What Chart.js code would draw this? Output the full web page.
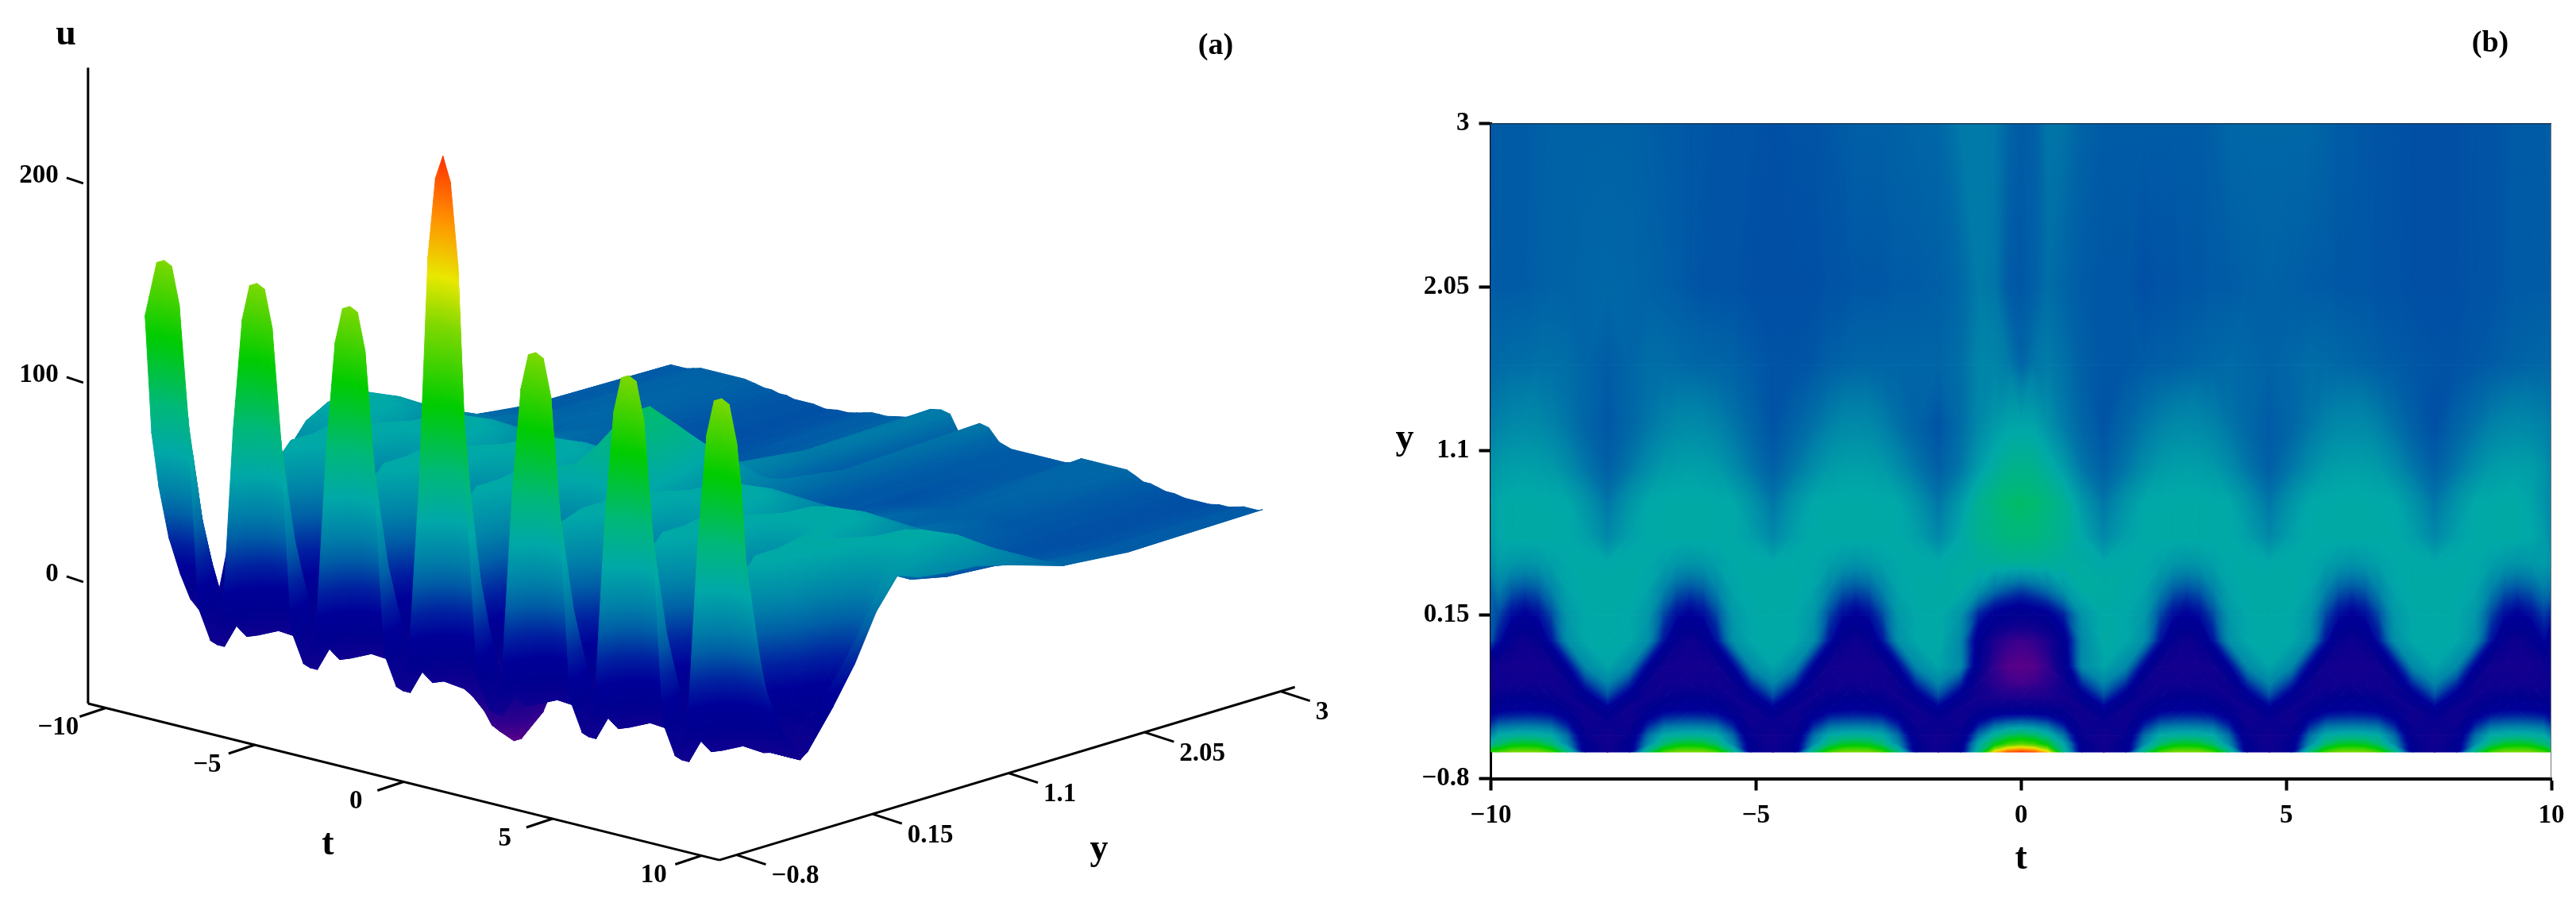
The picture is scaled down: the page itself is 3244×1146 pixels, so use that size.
<!DOCTYPE html>
<html>
<head>
<meta charset="utf-8">
<title>Surface and contour of u(t, y)</title>
<script src="https://cdn.jsdelivr.net/npm/chart.js@4/dist/chart.umd.min.js"></script>
<style>
	html, body { margin: 0; padding: 0; background: #fff; }
	#page { position: relative; width: 3244px; height: 1146px; overflow: hidden; }
	canvas { position: absolute; top: 0; }
	#surface-canvas { left: 0; }
	#contour-canvas { left: 1700px; }
</style>
</head>
<body>
<div id="page">
	<canvas id="surface-canvas" width="1700" height="1146"></canvas>
	<canvas id="contour-canvas" width="1544" height="1146"></canvas>
</div>
<script>
// --- Data ---

const tValues = [
	-10, -9.86, -9.61, -9.36, -9.11, -8.86, -8.56, -8.21, -7.8,
	-7.39, -7.04, -6.74, -6.49, -6.24, -5.99, -5.74, -5.44, -5.09, -4.68,
	-4.27, -3.92, -3.62, -3.37, -3.12, -2.87, -2.62, -2.32, -1.97, -1.56,
	-1.15, -0.8, -0.5, -0.25, 0, 0.25, 0.5, 0.8, 1.15, 1.56,
	1.97, 2.32, 2.62, 2.87, 3.12, 3.37, 3.62, 3.92, 4.27, 4.68,
	5.09, 5.44, 5.74, 5.99, 6.24, 6.49, 6.74, 7.04, 7.39, 7.8,
	8.21, 8.56, 8.86, 9.11, 9.36, 9.61, 9.86, 10,
];

const yValues = [-0.646, -0.6, -0.55, -0.48, -0.4, -0.33, -0.25, -0.15, 0, 0.15, 0.3, 0.45, 0.6, 0.8, 1, 1.25, 1.6, 2.05, 3];

// one row per yValues entry, one column per tValues entry
const uRows = [
	[130, 140, 158, 160, 158, 140, 84, -10, -25,
		-10, 84, 140, 158, 160, 158, 140, 84, -10, -25,
		-10, 84, 140, 158, 160, 158, 140, 84, -10, -25,
		-10, 78, 195, 235, 247, 235, 195, 78, -10, -25,
		-10, 84, 140, 158, 160, 158, 140, 84, -10, -25,
		-10, 84, 140, 158, 160, 158, 140, 84, -10, -25,
		-10, 84, 140, 158, 160, 158, 140, 120],
	[70, 88, 108, 112, 108, 88, 45, -12, -28,
		-12, 45, 88, 108, 112, 108, 88, 45, -12, -28,
		-12, 45, 88, 108, 112, 108, 88, 45, -12, -28,
		-12, 60, 112, 140, 150, 140, 112, 60, -12, -28,
		-12, 45, 88, 108, 112, 108, 88, 45, -12, -28,
		-12, 45, 88, 108, 112, 108, 88, 45, -12, -28,
		-12, 45, 88, 108, 112, 108, 88, 70],
	[42, 62, 68, 70, 68, 62, 32, -18, -30,
		-18, 32, 62, 68, 70, 68, 62, 32, -18, -30,
		-18, 32, 62, 68, 70, 68, 62, 32, -18, -30,
		-18, 35, 72, 92, 100, 92, 72, 35, -18, -30,
		-18, 32, 62, 68, 70, 68, 62, 32, -18, -30,
		-18, 32, 62, 68, 70, 68, 62, 32, -18, -30,
		-18, 32, 62, 68, 70, 68, 62, 42],
	[15, 26, 29, 30, 29, 26, 8, -25, -20,
		-25, 8, 26, 29, 30, 29, 26, 8, -25, -20,
		-25, 8, 26, 29, 30, 29, 26, 8, -25, -20,
		-25, 6, 25, 32, 35, 32, 25, 6, -25, -20,
		-25, 8, 26, 29, 30, 29, 26, 8, -25, -20,
		-25, 8, 26, 29, 30, 29, 26, 8, -25, -20,
		-25, 8, 26, 29, 30, 29, 26, 15],
	[-5, -4, -1, 0, -1, -4, -14, -26, -5,
		-26, -14, -4, -1, 0, -1, -4, -14, -26, -5,
		-26, -14, -4, -1, 0, -1, -4, -14, -26, -5,
		-26, -18, -14, -12, -12, -12, -14, -18, -26, -5,
		-26, -14, -4, -1, 0, -1, -4, -14, -26, -5,
		-26, -14, -4, -1, 0, -1, -4, -14, -26, -5,
		-26, -14, -4, -1, 0, -1, -4, -4],
	[-19, -16, -13, -12, -13, -16, -24, -10, 20,
		-10, -24, -16, -13, -12, -13, -16, -24, -10, 20,
		-10, -24, -16, -13, -12, -13, -16, -24, -10, 20,
		-10, -30, -33, -35, -35, -35, -33, -30, -10, 20,
		-10, -24, -16, -13, -12, -13, -16, -24, -10, 20,
		-10, -24, -16, -13, -12, -13, -16, -24, -10, 20,
		-10, -24, -16, -13, -12, -13, -16, -14],
	[-28, -28, -27, -27, -27, -28, -22, 15, 42,
		15, -22, -28, -27, -27, -27, -28, -22, 15, 42,
		15, -22, -28, -27, -27, -27, -28, -22, 15, 42,
		15, -28, -42, -48, -50, -48, -42, -28, 15, 42,
		15, -22, -28, -27, -27, -27, -28, -22, 15, 42,
		15, -22, -28, -27, -27, -27, -28, -22, 15, 42,
		15, -22, -28, -27, -27, -27, -26, -22],
	[-26, -28, -31, -31, -31, -28, 0, 45, 58,
		45, 0, -28, -31, -31, -31, -28, 0, 45, 58,
		45, 0, -28, -31, -31, -31, -28, 0, 45, 58,
		45, -15, -46, -55, -57, -55, -46, -15, 45, 58,
		45, 0, -28, -31, -31, -31, -28, 0, 45, 58,
		45, 0, -28, -31, -31, -31, -28, 0, 45, 58,
		45, 0, -28, -31, -31, -31, -26, -18],
	[25, 8, -16, -24, -16, 8, 48, 60, 62,
		60, 48, 8, -16, -24, -16, 8, 48, 60, 62,
		60, 48, 8, -16, -24, -16, 8, 48, 60, 62,
		45, -10, -35, -45, -48, -45, -35, -10, 45, 62,
		60, 48, 8, -16, -24, -16, 8, 48, 60, 62,
		60, 48, 8, -16, -24, -16, 8, 48, 60, 62,
		60, 48, 8, -16, -24, -16, 2, -6],
	[28, 22, 5, -2, 5, 22, 52, 60, 62,
		60, 52, 22, 5, -2, 5, 22, 52, 60, 62,
		60, 52, 22, 5, -2, 5, 22, 52, 60, 62,
		50, 12, -5, -10, -13, -10, -5, 12, 50, 62,
		60, 52, 22, 5, -2, 5, 22, 52, 60, 62,
		60, 52, 22, 5, -2, 5, 22, 52, 60, 62,
		60, 52, 22, 5, -2, 5, 18, 12],
	[32, 40, 28, 24, 28, 42, 58, 62, 62,
		62, 58, 42, 28, 24, 28, 42, 58, 62, 62,
		62, 58, 42, 28, 24, 28, 42, 58, 62, 62,
		64, 52, 36, 28, 22, 28, 36, 52, 64, 64,
		62, 58, 42, 28, 24, 28, 42, 58, 62, 62,
		62, 58, 42, 28, 24, 28, 42, 58, 62, 62,
		62, 58, 42, 28, 24, 28, 38, 35],
	[46, 54, 52, 50, 52, 56, 60, 62, 60,
		62, 60, 56, 52, 50, 52, 56, 60, 62, 60,
		62, 60, 56, 52, 50, 52, 56, 60, 62, 60,
		64, 66, 68, 70, 70, 70, 68, 66, 64, 60,
		62, 60, 56, 52, 50, 52, 56, 60, 62, 60,
		62, 60, 56, 52, 50, 52, 56, 60, 62, 60,
		62, 60, 56, 52, 50, 52, 54, 50],
	[53, 60, 62, 62, 62, 62, 61, 56, 44,
		56, 61, 62, 62, 62, 62, 62, 61, 56, 44,
		56, 61, 62, 62, 62, 62, 62, 61, 56, 44,
		60, 72, 78, 83, 84, 83, 78, 72, 60, 44,
		56, 61, 62, 62, 62, 62, 62, 61, 56, 44,
		56, 61, 62, 62, 62, 62, 62, 61, 56, 44,
		56, 61, 62, 62, 62, 60, 54, 46],
	[55, 60, 62, 62, 62, 61, 60, 50, 36,
		50, 60, 61, 62, 62, 62, 61, 60, 50, 36,
		50, 60, 61, 62, 62, 62, 61, 60, 50, 36,
		52, 72, 82, 88, 90, 88, 82, 72, 52, 36,
		50, 60, 61, 62, 62, 62, 61, 60, 50, 36,
		50, 60, 61, 62, 62, 62, 61, 60, 50, 36,
		50, 60, 61, 62, 62, 58, 50, 44],
	[50, 53, 55, 56, 55, 53, 46, 36, 28,
		36, 46, 53, 55, 56, 55, 53, 46, 36, 28,
		36, 46, 53, 55, 56, 55, 53, 46, 36, 28,
		36, 54, 66, 74, 76, 74, 66, 54, 36, 28,
		36, 46, 53, 55, 56, 55, 53, 46, 36, 28,
		36, 46, 53, 55, 56, 55, 53, 46, 36, 28,
		36, 46, 53, 55, 56, 55, 50, 43],
	[39, 41, 44, 45, 44, 41, 36, 30, 26,
		30, 36, 41, 44, 45, 44, 41, 36, 30, 25,
		29, 34, 40, 44, 45, 44, 40, 34, 29, 25,
		32, 44, 52, 57, 58, 57, 49, 38, 30, 25,
		30, 36, 41, 44, 45, 44, 41, 36, 31, 27,
		30, 36, 41, 44, 45, 44, 40, 34, 28, 24,
		29, 34, 40, 43, 44, 43, 41, 38],
	[31, 32, 33, 33, 34, 34, 33, 30, 27,
		30, 33, 33, 32, 31, 30, 30, 29, 27, 25,
		25, 26, 28, 29, 30, 30, 30, 30, 30, 30,
		33, 42, 42, 38, 30, 36, 38, 34, 28, 26,
		26, 27, 28, 28, 29, 30, 31, 32, 31, 29,
		31, 33, 32, 31, 30, 29, 28, 27, 26, 25,
		25, 26, 27, 28, 29, 30, 31, 30],
	[27, 27, 27, 27, 28, 29, 29, 30, 31,
		30, 29, 28, 27, 26, 25, 25, 25, 24, 24,
		24, 24, 25, 25, 26, 26, 26, 27, 27, 28,
		31, 38, 36, 27, 26, 28, 33, 30, 27, 26,
		26, 24, 25, 25, 26, 26, 27, 27, 28, 29,
		28, 27, 27, 26, 26, 26, 25, 25, 24, 24,
		24, 25, 25, 26, 27, 27, 27, 27],
	[26, 27, 27, 27, 28, 29, 29, 29, 29,
		29, 28, 27, 27, 26, 26, 25, 25, 25, 24,
		25, 25, 26, 27, 28, 28, 28, 29, 30, 31,
		37, 38, 37, 30, 27, 28, 36, 35, 29, 27,
		27, 27, 27, 27, 27, 27, 28, 31, 31, 31,
		31, 31, 29, 27, 27, 26, 25, 25, 24, 24,
		24, 25, 25, 26, 27, 27, 27, 28],
];

const uTicks = [0, 100, 200];
const uTickLabels = ['0', '100', '200'];
const tTicks = [-10, -5, 0, 5, 10];
const tTickLabels = ['\u221210', '\u22125', '0', '5', '10'];
const yTicks = [-0.8, 0.15, 1.1, 2.05, 3];
const yTickLabels = ['\u22120.8', '0.15', '1.1', '2.05', '3'];

// colour ramp of the surface, u level -> colour
const rampLevels = [-57, -45, -30, -12, 0, 12, 28, 40, 60, 85, 120, 160, 185, 215, 247];
const rampColors = ['#5a0088', '#30008e', '#12008f', '#00008f', '#000098', '#0020a0', '#005fa6', '#0080a8',
	'#00a8a8', '#00b878', '#00cc00', '#7fd800', '#e8e800', '#ff9000', '#ff3000'];

// --- Colours ---

const rampRgb = rampColors.map(c => [1, 3, 5].map(i => parseInt(c.slice(i, i + 2), 16)));

function colorAt(u) {
	if (u <= rampLevels[0]) return rampColors[0];
	const last = rampLevels.length - 1;
	if (u >= rampLevels[last]) return rampColors[last];
	let i = 0;
	while (rampLevels[i + 1] < u) i++;
	const f = (u - rampLevels[i]) / (rampLevels[i + 1] - rampLevels[i]);
	const rgb = rampRgb[i].map((v, k) => Math.round(v + (rampRgb[i + 1][k] - v) * f));
	return `rgb(${rgb[0]},${rgb[1]},${rgb[2]})`;
}

// u is linear over one triangle, so a linear gradient along its slope shades it exactly
function triangleFill(chart, tri) {
	const { x: xs, y: ys } = chart.scales;
	const px = tri.points.map(p => xs.getPixelForValue(p.x));
	const py = tri.points.map(p => ys.getPixelForValue(p.y));
	const u = tri.u;
	const det = (px[1] - px[0]) * (py[2] - py[0]) - (px[2] - px[0]) * (py[1] - py[0]);
	const uMin = Math.min(...u);
	const uMax = Math.max(...u);
	const flat = colorAt((u[0] + u[1] + u[2]) / 3);
	if (Math.abs(det) < 0.5 || uMax - uMin < 0.01) return flat;
	const a = ((u[1] - u[0]) * (py[2] - py[0]) - (u[2] - u[0]) * (py[1] - py[0])) / det;
	const b = ((u[2] - u[0]) * (px[1] - px[0]) - (u[1] - u[0]) * (px[2] - px[0])) / det;
	const k = u.indexOf(uMin);
	const s = (uMax - uMin) / (a * a + b * b);
	if (!Number.isFinite(s)) return flat;
	const grad = chart.ctx.createLinearGradient(px[k], py[k], px[k] + a * s, py[k] + b * s);
	grad.addColorStop(0, colorAt(uMin));
	rampLevels.forEach((level, i) => {
		if (level > uMin && level < uMax) grad.addColorStop((level - uMin) / (uMax - uMin), rampColors[i]);
	});
	grad.addColorStop(1, colorAt(uMax));
	return grad;
}

const fillCache = new Map();

function scriptedFill(ctx) {
	// scales have no pixels until the first layout is done
	if (!ctx.chart.chartArea) return 'transparent';
	const ds = ctx.dataset;
	if (!fillCache.has(ds)) fillCache.set(ds, triangleFill(ctx.chart, ds.tri));
	return fillCache.get(ds);
}

function triangleDataset(a, b, c) {
	const pts = [a, b, c];
	return {
		data: [...pts.map(p => ({ x: p.x, y: p.y })), { x: a.x, y: a.y }],
		tri: { points: pts, u: pts.map(p => p.u) },
		showLine: true,
		fill: 'shape',
		tension: 0,
		borderWidth: 1,
		pointRadius: 0,
		backgroundColor: scriptedFill,
		borderColor: scriptedFill,
	};
}

// split every grid cell along the diagonal with the closer u values.
// Chart.js paints the first dataset last, so front cells go first in the list.
function meshDatasets(place) {
	const sets = [];
	for (let r = 0; r < yValues.length - 1; r++) {
		for (let c = tValues.length - 2; c >= 0; c--) {
			const p00 = place(tValues[c], yValues[r], uRows[r][c]);
			const p10 = place(tValues[c + 1], yValues[r], uRows[r][c + 1]);
			const p01 = place(tValues[c], yValues[r + 1], uRows[r + 1][c]);
			const p11 = place(tValues[c + 1], yValues[r + 1], uRows[r + 1][c + 1]);
			if (Math.abs(p00.u - p11.u) <= Math.abs(p10.u - p01.u)) {
				sets.push(triangleDataset(p00, p10, p11), triangleDataset(p00, p11, p01));
			} else {
				sets.push(triangleDataset(p00, p10, p01), triangleDataset(p10, p11, p01));
			}
		}
	}
	return sets;
}

function lineDataset(points, color, width) {
	return {
		data: points,
		showLine: true,
		fill: false,
		borderColor: color,
		borderWidth: width,
		pointRadius: 0,
		borderCapStyle: 'butt',
	};
}

// --- Free text drawn on a chart ---

const SERIF = "'Liberation Serif', 'Times New Roman', serif";

const textPlugin = {
	id: 'freeText',
	afterDraw(chart, args, opts) {
		const ctx = chart.ctx;
		ctx.save();
		ctx.fillStyle = '#000';
		ctx.textBaseline = 'middle';
		opts.items.forEach(item => {
			ctx.font = `bold ${item.size}px ${SERIF}`;
			ctx.textAlign = item.align || 'center';
			ctx.fillText(item.text, item.x, item.y);
		});
		ctx.restore();
	},
};

const baseOptions = {
	responsive: false,
	animation: false,
	events: [],
};

// --- Panel (a): surface ---

function project(t, y, u) {
	return {
		x: 155 + (t + 10) * 37.5 + (y + 0.8) * 180.3,
		y: 885 + (t + 10) * 9.3 - (y + 0.8) * 54.2 - (u + 61) * 2.51,
		u,
	};
}

function drawSurface() {
	const TICK = 33;
	const Y_EDGE = -0.92;
	const T_EDGE_LOW = -10.6;
	const T_EDGE_HIGH = 10.6;
	const U_FLOOR = -61;
	const U_TOP = 258;

	const corner = project(T_EDGE_LOW, Y_EDGE, U_FLOOR);
	const axes = [];
	const text = [];

	axes.push(lineDataset([corner, project(T_EDGE_LOW, Y_EDGE, U_TOP)], '#000', 3));
	axes.push(lineDataset([corner, project(T_EDGE_HIGH, Y_EDGE, U_FLOOR)], '#000', 3));
	axes.push(lineDataset([project(T_EDGE_HIGH, Y_EDGE, U_FLOOR), project(T_EDGE_HIGH, 3.1, U_FLOOR)], '#000', 3));

	uTicks.forEach((u, i) => {
		const p = project(T_EDGE_LOW, Y_EDGE, u);
		axes.push(lineDataset([{ x: p.x - 6, y: p.y }, { x: p.x - 27, y: p.y - 7 }], '#000', 3));
		text.push({ text: uTickLabels[i], x: p.x - 37, y: p.y - 9, size: 33, align: 'right' });
	});
	tTicks.forEach((t, i) => {
		const p = project(t, Y_EDGE, U_FLOOR);
		axes.push(lineDataset([p, { x: p.x - TICK, y: p.y + 11 }], '#000', 3));
		text.push({ text: tTickLabels[i], x: p.x - 60, y: p.y + 25, size: 33 });
	});
	yTicks.forEach((y, i) => {
		const p = project(T_EDGE_HIGH, y, U_FLOOR);
		axes.push(lineDataset([p, { x: p.x + 37, y: p.y + 12 }], '#000', 3));
		text.push({ text: yTickLabels[i], x: p.x + 44, y: p.y + 27, size: 33, align: 'left' });
	});

	text.push({ text: 'u', x: 83, y: 44, size: 46 });
	text.push({ text: 't', x: 413, y: 1064, size: 46 });
	text.push({ text: 'y', x: 1384, y: 1070, size: 46 });
	text.push({ text: '(a)', x: 1531, y: 58, size: 38 });

	return new Chart(document.getElementById('surface-canvas'), {
		type: 'scatter',
		data: { datasets: [...axes, ...meshDatasets(project)] },
		options: {
			...baseOptions,
			layout: { padding: 0 },
			plugins: {
				legend: { display: false },
				tooltip: { enabled: false },
				freeText: { items: text },
			},
			scales: {
				x: { type: 'linear', display: false, min: 0, max: 1700 },
				y: { type: 'linear', display: false, min: 0, max: 1146, reverse: true },
			},
		},
		plugins: [textPlugin],
	});
}

// --- Panel (b): contour map ---

function drawContour() {
	const frame = [
		lineDataset([{ x: -10, y: 3 }, { x: 10, y: 3 }], '#1b3a57', 3),
		lineDataset([{ x: 10, y: -0.8 }, { x: 10, y: 3 }], '#6f7478', 2),
	];
	const sets = [...frame, ...meshDatasets((t, y, u) => ({ x: t, y, u }))];

	const axisFont = { family: SERIF, size: 33, weight: 'bold' };
	const setTicks = values => scale => {
		scale.ticks = values.map(value => ({ value }));
	};

	return new Chart(document.getElementById('contour-canvas'), {
		type: 'scatter',
		data: { datasets: sets },
		options: {
			...baseOptions,
			layout: { padding: { left: 0, top: 155, right: 31, bottom: 0 } },
			plugins: {
				legend: { display: false },
				tooltip: { enabled: false },
				freeText: {
					items: [
						{ text: 'y', x: 69, y: 553, size: 46 },
						{ text: '(b)', x: 1436, y: 55, size: 38 },
					],
				},
			},
			scales: {
				x: {
					type: 'linear',
					min: -10,
					max: 10,
					afterBuildTicks: setTicks(tTicks),
					afterFit(scale) { scale.height = 165.5; },
					border: { color: '#000', width: 4 },
					grid: { drawOnChartArea: false, tickLength: 15, tickWidth: 4, tickColor: '#000' },
					ticks: {
						color: '#000',
						font: axisFont,
						padding: 12,
						maxRotation: 0,
						autoSkip: false,
						callback: value => tTickLabels[tTicks.indexOf(value)],
					},
					title: {
						display: true,
						text: 't',
						color: '#000',
						font: { family: SERIF, size: 46, weight: 'bold' },
						padding: { top: 0, bottom: 36 },
					},
				},
				y: {
					type: 'linear',
					min: -0.8,
					max: 3,
					afterBuildTicks: setTicks(yTicks),
					afterFit(scale) { scale.width = 177.5; },
					border: { color: '#000', width: 3 },
					grid: { drawOnChartArea: false, tickLength: 15, tickWidth: 4, tickColor: '#000' },
					ticks: {
						color: '#000',
						font: axisFont,
						padding: 12,
						autoSkip: false,
						callback: value => yTickLabels[yTicks.indexOf(value)],
					},
				},
			},
		},
		plugins: [textPlugin],
	});
}

drawSurface();
drawContour();
</script>
</body>
</html>
